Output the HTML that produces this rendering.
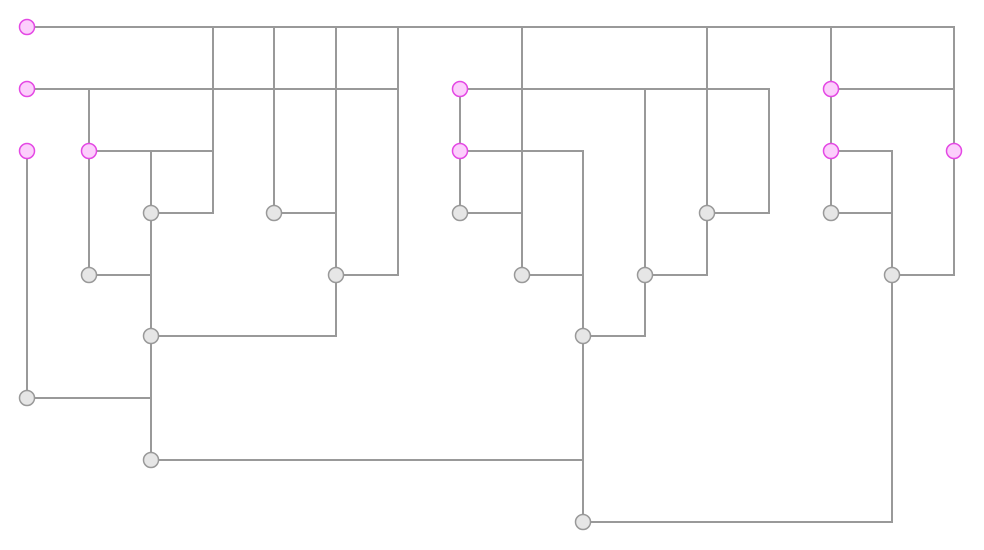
<!DOCTYPE html>
<html><head><meta charset="utf-8"><style>html,body{margin:0;padding:0;background:#fff;width:984px;height:550px;overflow:hidden}</style></head>
<body>
<svg width="984" height="550" xmlns="http://www.w3.org/2000/svg">
<g stroke="#999" stroke-width="2" fill="none">
<path d="M27 27H954V275H892"/>
<path d="M213 27V213H151"/>
<path d="M274 27V213"/><path d="M274 213H336"/>
<path d="M336 27V336H151"/>
<path d="M398 27V275H336"/>
<path d="M522 27V275H583"/>
<path d="M707 27V275H645"/>
<path d="M831 27V213H892"/>
<path d="M27 89H398"/>
<path d="M89 89V275H151"/>
<path d="M89 151H213"/>
<path d="M151 151V460H583"/>
<path d="M27 151V398H151"/>
<path d="M460 89H769V213H707"/>
<path d="M460 89V213H522"/>
<path d="M460 151H583V522H892V151H831"/>
<path d="M645 89V336H583"/>
<path d="M831 89H954"/>
</g>
<g fill="#e6e6e6" stroke="#999" stroke-width="1.5">
<circle cx="151" cy="213" r="7.5"/><circle cx="274" cy="213" r="7.5"/><circle cx="460" cy="213" r="7.5"/>
<circle cx="707" cy="213" r="7.5"/><circle cx="831" cy="213" r="7.5"/>
<circle cx="89" cy="275" r="7.5"/><circle cx="336" cy="275" r="7.5"/><circle cx="522" cy="275" r="7.5"/>
<circle cx="645" cy="275" r="7.5"/><circle cx="892" cy="275" r="7.5"/>
<circle cx="151" cy="336" r="7.5"/><circle cx="583" cy="336" r="7.5"/>
<circle cx="27" cy="398" r="7.5"/><circle cx="151" cy="460" r="7.5"/><circle cx="583" cy="522" r="7.5"/>
</g>
<g fill="#fccffc" stroke="#e448e4" stroke-width="1.5">
<circle cx="27" cy="27" r="7.5"/><circle cx="27" cy="89" r="7.5"/><circle cx="27" cy="151" r="7.5"/>
<circle cx="89" cy="151" r="7.5"/><circle cx="460" cy="89" r="7.5"/><circle cx="460" cy="151" r="7.5"/>
<circle cx="831" cy="89" r="7.5"/><circle cx="831" cy="151" r="7.5"/><circle cx="954" cy="151" r="7.5"/>
</g>
</svg>
</body></html>
